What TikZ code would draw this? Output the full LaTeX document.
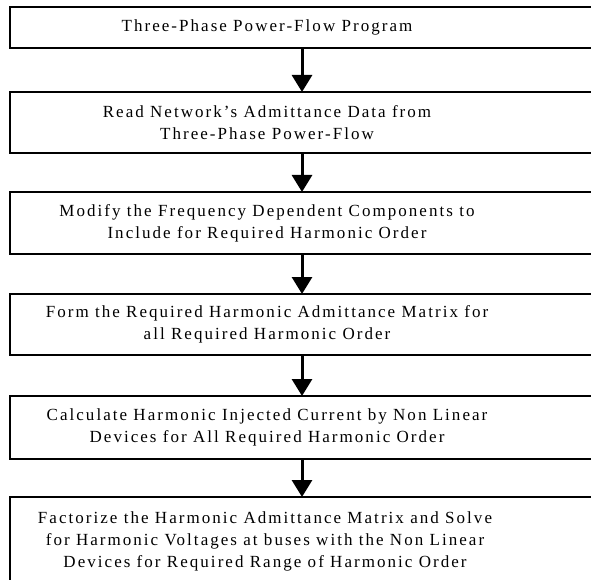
\documentclass[tikz,border=0pt]{standalone}
\usepackage{fontspec}
\setmainfont{Liberation Serif}[LetterSpace=12]
\usetikzlibrary{arrows.meta}
\begin{document}
\begin{tikzpicture}[x=1pt,y=1pt,
  stepbox/.style={draw=black,line width=2pt,rectangle,minimum width=610pt,inner sep=0pt},
  steptext/.style={align=center,inner sep=0pt,font=\fontsize{17}{22}\selectfont},
  flow/.style={line width=3pt,-{Triangle[width=20pt,length=17pt]},shorten >=-1pt}]
\clip (0,0) rectangle (591,-580);
\fill[white] (0,0) rectangle (591,-580);
\node[stepbox,minimum height=41pt] (b1) at (315,-27.5) {};
\node[stepbox,minimum height=61pt] (b2) at (315,-122.5) {};
\node[stepbox,minimum height=62pt] (b3) at (315,-223) {};
\node[stepbox,minimum height=61pt] (b4) at (315,-324.5) {};
\node[stepbox,minimum height=63pt] (b5) at (315,-427.5) {};
\node[stepbox,minimum height=90pt] (b6) at (315,-542) {};
\node[steptext] (t1) at (267,-27.5) {Three-Phase Power-Flow Program};
\node[steptext] (t2) at (267,-122.5) {Read Network's Admittance Data from\\Three-Phase Power-Flow};
\node[steptext] (t3) at (267,-223) {Modify the Frequency Dependent Components to\\Include for Required Harmonic Order};
\node[steptext] (t4) at (267,-324.5) {Form the Required Harmonic Admittance Matrix for\\all Required Harmonic Order};
\node[steptext] (t5) at (267,-427.5) {Calculate Harmonic Injected Current by Non Linear\\Devices for All Required Harmonic Order};
\node[steptext] (t6) at (265,-541) {Factorize the Harmonic Admittance Matrix and Solve\\for Harmonic Voltages at buses with the Non Linear\\Devices for Required Range of Harmonic Order};
\draw[flow] ([xshift=-13pt]b1.south) -- ([xshift=-13pt]b2.north);
\draw[flow] ([xshift=-13pt]b2.south) -- ([xshift=-13pt]b3.north);
\draw[flow] ([xshift=-13pt]b3.south) -- ([xshift=-13pt]b4.north);
\draw[flow] ([xshift=-13pt]b4.south) -- ([xshift=-13pt]b5.north);
\draw[flow] ([xshift=-13pt]b5.south) -- ([xshift=-13pt]b6.north);
\end{tikzpicture}
\end{document}
